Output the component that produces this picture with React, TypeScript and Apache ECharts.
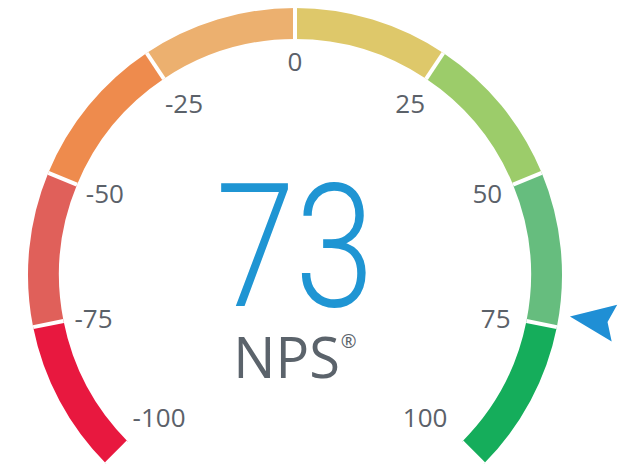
import React, { useEffect, useRef } from 'react';
import * as echarts from 'echarts';

const tickLabels = [-100, -75, -50, -25, 0, 25, 50, 75, 100];
const segmentColors = ['#e8183f', '#e0605a', '#ee8b4d', '#ecb06f', '#dec86a', '#9ccc6a', '#66bd7e', '#15ad5b'];
const npsValue = 73;
const metricName = 'NPS';

// per-label nudges (padding: top, right, bottom, left) — styling only
const labelPads: number[][] = [
  [0, 0, 47, 3],
  [0, 0, 5, 9],
  [15, 0, 0, 7],
  [10, 0, 0, 0],
  [7, 0, 0, 0],
  [10, 0, 0, 0],
  [15, 9, 0, 0],
  [0, 14, 5, 0],
  [0, 13, 47, 0],
];

export default function App() {
  const ref = useRef<HTMLDivElement>(null);
  useEffect(() => {
    document.body.style.margin = '0';
    const chart = echarts.init(ref.current!, null, { renderer: 'svg' });
    const n = segmentColors.length;
    const min = tickLabels[0];
    const max = tickLabels[tickLabels.length - 1];
    const rich: Record<string, any> = {};
    tickLabels.forEach((_, i) => {
      rich['t' + i] = { fontSize: 26, fontFamily: 'Open Sans', color: '#5b6169', padding: labelPads[i] };
    });
    chart.setOption({
      animation: false,
      graphic: [
        {
          type: 'text',
          x: 295,
          y: 247,
          scaleX: 0.83,
          silent: true,
          style: {
            text: String(npsValue),
            fontSize: 172,
            fontFamily: 'Roboto',
            fontWeight: 300,
            fill: '#1f95d3',
            align: 'center',
            verticalAlign: 'middle',
          },
        },
      ],
      series: [
        {
          type: 'gauge',
          center: [295, 275],
          radius: 267,
          startAngle: 225,
          endAngle: -45,
          min,
          max,
          splitNumber: tickLabels.length - 1,
          axisLine: {
            lineStyle: { width: 31, color: segmentColors.map((c, i) => [(i + 1) / n, c]) },
          },
          splitLine: { show: true, length: 31, distance: -31, lineStyle: { color: '#ffffff', width: 4 } },
          axisTick: { show: false },
          axisLabel: {
            distance: 33,
            color: '#5b6169',
            fontSize: 26,
            fontFamily: 'Open Sans',
            formatter: (v: number) => {
              const i = tickLabels.findIndex((t) => Math.abs(t - v) < 1e-6);
              return i >= 0 ? `{t${i}|${tickLabels[i]}}` : String(v);
            },
            rich,
          },
          pointer: {
            icon: 'path://M0,0L18.5,7L37,0L18.5,45Z',
            length: 45,
            width: 37,
            offsetCenter: [0, -278],
            itemStyle: { color: '#1f8fd5' },
          },
          anchor: { show: false },
          progress: { show: false },
          title: {
            show: true,
            offsetCenter: [0, 81],
            color: '#5b636b',
            rich: {
              n: { fontSize: 56, fontFamily: 'Open Sans', color: '#5b636b' },
              r: { fontSize: 19, fontFamily: 'Open Sans', color: '#5b636b', padding: [0, 0, 30, 1] },
            },
          },
          detail: { show: false },
          data: [{ value: npsValue, name: `{n|${metricName}}{r|®}` }],
        },
      ],
    });
    return () => chart.dispose();
  }, []);
  return <div ref={ref} style={{ width: 620, height: 465 }} />;
}
